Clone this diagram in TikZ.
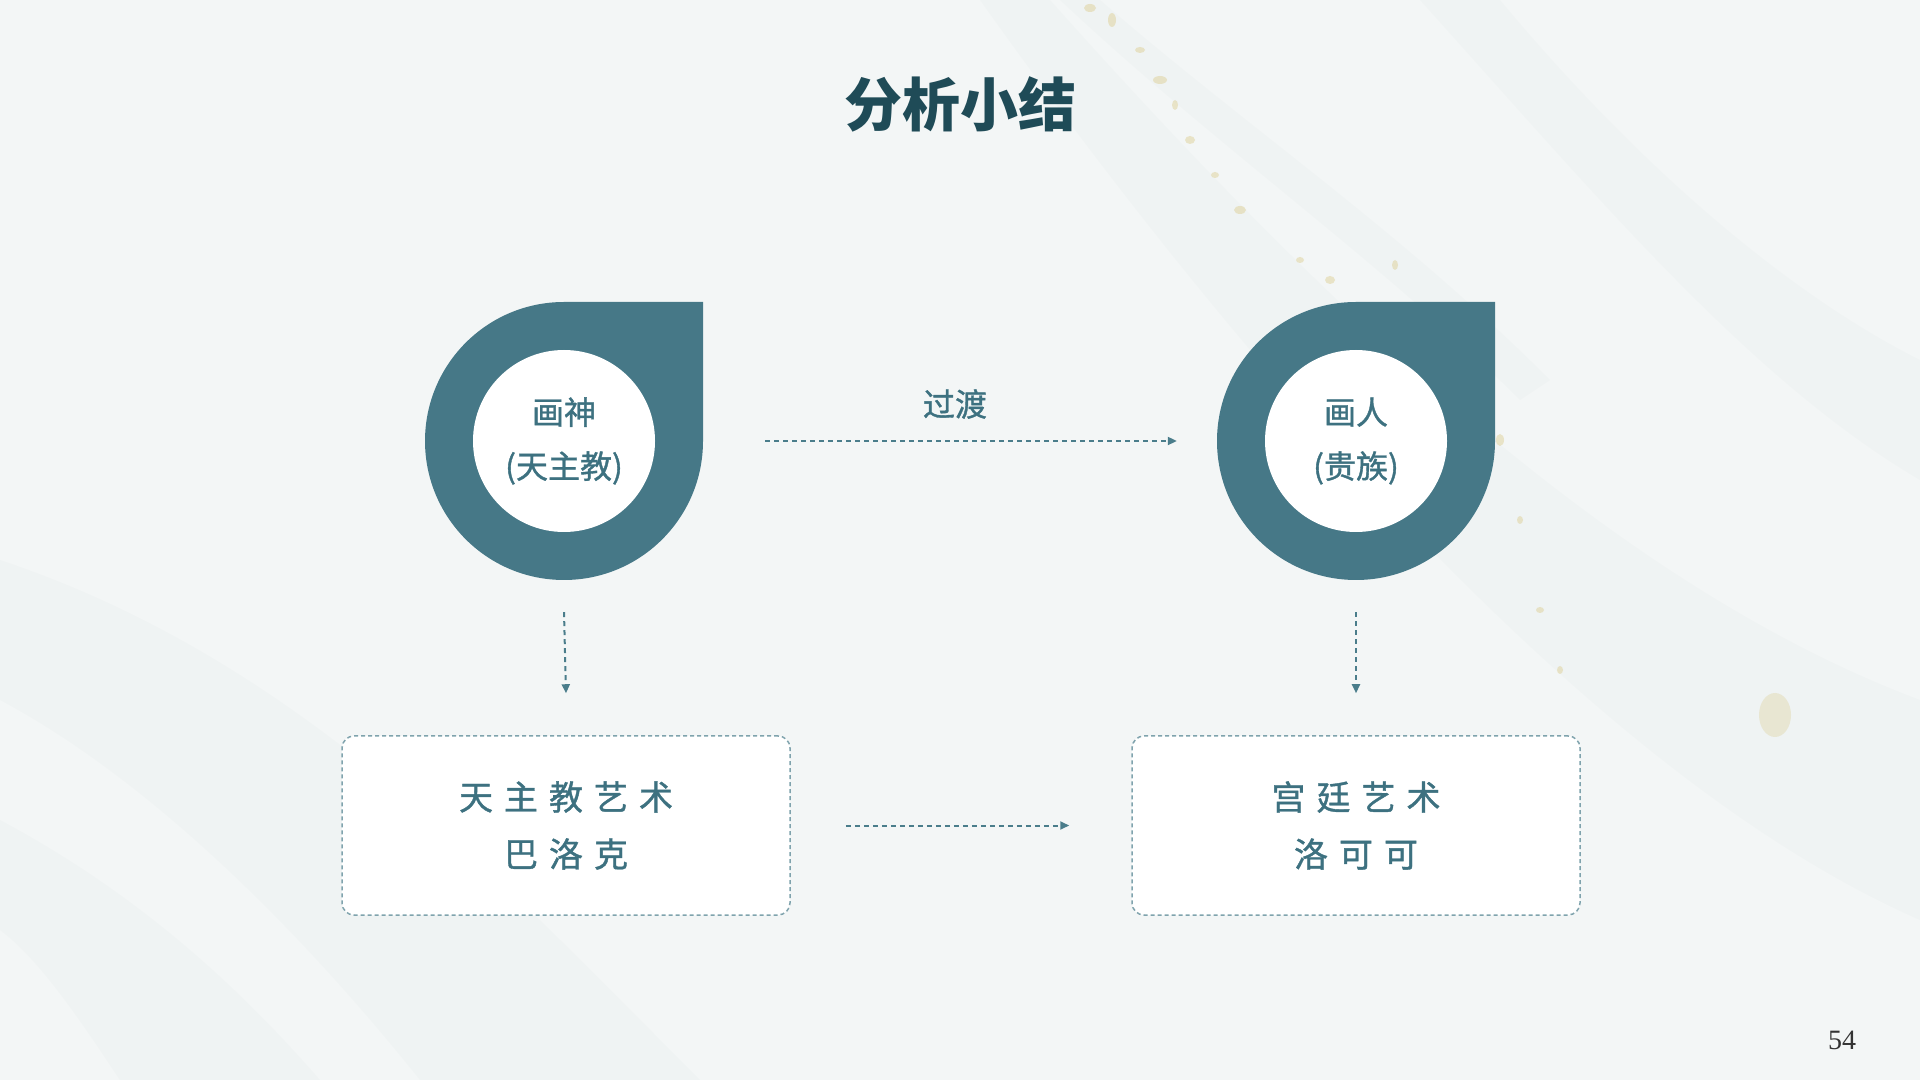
\documentclass[tikz,border=0pt]{standalone}
\usepackage{fontspec}
\newfontfamily\cjk{Noto Sans CJK SC}
\newfontfamily\cjkm[FakeBold=1.1]{Noto Sans CJK SC}
\newfontfamily\pgserif{Liberation Serif}
\usetikzlibrary{arrows.meta}
\definecolor{bgc}{HTML}{F3F6F6}
\definecolor{streakc}{HTML}{A7B9B9}
\definecolor{goldc}{HTML}{D6C270}
\definecolor{dropc}{HTML}{467887}
\definecolor{titlec}{HTML}{1F4B57}
\definecolor{txtc}{HTML}{3D7180}
\definecolor{arrc}{HTML}{4A7D8B}
\definecolor{boxc}{HTML}{7FA3AD}
\newcommand\ls{\kern11pt}
\begin{document}
\begin{tikzpicture}[x=1pt,y=1pt,
  innerc/.style={circle,fill=white,minimum size=182pt,inner sep=0pt,text=txtc,
    font=\cjkm\fontsize{32}{54}\selectfont,align=center},
  outerc/.style={circle,minimum size=278pt,inner sep=0pt},
  flowarrow/.style={draw=arrc,line width=2pt,dash pattern=on 5pt off 4pt,
    -{Triangle[length=9pt,width=8pt]}},
  dashbox/.style={draw=boxc,fill=white,line width=1.5pt,dash pattern=on 4pt off 3pt,
    rounded corners=12pt,minimum width=448pt,minimum height=179pt,inner sep=0pt,
    text=txtc,font=\cjkm\fontsize{34}{57}\selectfont,align=center},
  lbl/.style={text=txtc,font=\cjkm\fontsize{32}{32}\selectfont},
  fleck/.style={fill=goldc,opacity=0.35}]
\fill[bgc] (0,0) rectangle (1920,1080);
\useasboundingbox (0,0) rectangle (1920,1080);
% faint marble streaks
\begin{scope}[opacity=0.045]
  \fill[streakc] (0,520) .. controls (300,420) and (500,200) .. (700,0) -- (420,0) .. controls (300,150) and (150,300) .. (0,380) -- cycle;
  \fill[streakc] (0,260) .. controls (150,180) and (250,80) .. (320,0) -- (120,0) .. controls (80,60) and (40,120) .. (0,150) -- cycle;
  \fill[streakc] (1050,1080) .. controls (1300,800) and (1600,500) .. (1920,380) -- (1920,160) .. controls (1600,300) and (1250,700) .. (980,1080) -- cycle;
  \fill[streakc] (1500,1080) .. controls (1650,900) and (1800,780) .. (1920,720) -- (1920,600) .. controls (1750,700) and (1600,880) .. (1420,1080) -- cycle;
  \fill[streakc] (1100,1080) .. controls (1250,950) and (1400,850) .. (1550,700) -- (1520,680) .. controls (1380,820) and (1220,930) .. (1060,1080) -- cycle;
\end{scope}
% gold flecks
\fill[fleck] (1090,1072) ellipse (6pt and 4pt);
\fill[fleck] (1112,1060) ellipse (4pt and 7pt);
\fill[fleck] (1140,1030) ellipse (5pt and 3pt);
\fill[fleck] (1160,1000) ellipse (7pt and 4pt);
\fill[fleck] (1175,975) ellipse (3pt and 5pt);
\fill[fleck] (1190,940) ellipse (5pt and 4pt);
\fill[fleck] (1215,905) ellipse (4pt and 3pt);
\fill[fleck] (1240,870) ellipse (6pt and 4pt);
\fill[fleck] (1300,820) ellipse (4pt and 3pt);
\fill[fleck] (1330,800) ellipse (5pt and 4pt);
\fill[fleck] (1395,815) ellipse (3pt and 5pt);
\fill[fleck] (1500,640) ellipse (4pt and 6pt);
\fill[fleck] (1520,560) ellipse (3pt and 4pt);
\fill[fleck] (1540,470) ellipse (4pt and 3pt);
\fill[fleck] (1560,410) ellipse (3pt and 4pt);
\fill[fleck,opacity=0.25] (1775,365) ellipse (16pt and 22pt);
% teardrops
\fill[dropc] (564,778) -- (703,778) -- (703,639) arc[start angle=0,end angle=-270,radius=139] -- cycle;
\fill[dropc] (1356,778) -- (1495,778) -- (1495,639) arc[start angle=0,end angle=-270,radius=139] -- cycle;
\node[outerc] (o1) at (564,639) {};
\node[outerc] (o2) at (1356,639) {};
\node[innerc] (c1) at (564,639) {画神\\(天主教)};
\node[innerc] (c2) at (1356,639) {画人\\(贵族)};
% boxes
\node[dashbox] (b1) at (566,254.5) {天{\ls}主{\ls}教{\ls}艺{\ls}术\\巴{\ls}洛{\ls}克};
\node[dashbox] (b2) at (1356,254.5) {宫{\ls}廷{\ls}艺{\ls}术\\洛{\ls}可{\ls}可};
% arrows
\draw[flowarrow] ([xshift=62pt]o1.east) -- ([xshift=-40pt]o2.west);
\node[lbl] (t1) at (955,676) {过渡};
\draw[flowarrow] ([yshift=-32pt]o1.south) -- ([yshift=42pt]b1.north);
\draw[flowarrow] ([yshift=-32pt]o2.south) -- ([yshift=42pt]b2.north);
\draw[flowarrow] ([xshift=55pt]b1.east) -- ([xshift=-62pt]b2.west);
% title and page number
\node[text=titlec,font=\cjk\bfseries\fontsize{58}{58}\selectfont] (title) at (960,976) {分析小结};
\node[text=black!80,font=\pgserif\fontsize{28}{28}\selectfont] (pg) at (1842,40) {54};
\end{tikzpicture}
\end{document}
